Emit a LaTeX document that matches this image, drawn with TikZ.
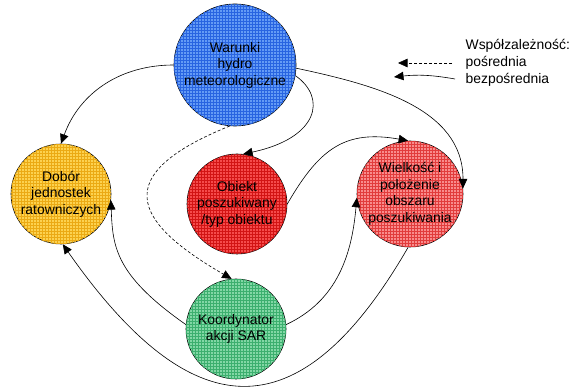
\documentclass[tikz,border=0pt]{standalone}
\usepackage{xcolor}
\usepackage{tikz}
\usepackage{fontspec}
\setmainfont{Liberation Sans}
\usetikzlibrary{arrows.meta,patterns}

\definecolor{warfill}{RGB}{100,155,245}
\definecolor{warline}{RGB}{40,100,225}
\definecolor{dobfill}{RGB}{252,210,80}
\definecolor{dobline}{RGB}{235,170,20}
\definecolor{obifill}{RGB}{245,75,75}
\definecolor{obiline}{RGB}{210,20,20}
\definecolor{wiefill}{RGB}{248,140,140}
\definecolor{wieline}{RGB}{225,60,60}
\definecolor{koofill}{RGB}{130,215,165}
\definecolor{kooline}{RGB}{60,175,110}

\begin{document}
\begin{tikzpicture}[x=1pt, y=1pt, line width=0.6pt,
  factor/.style={draw, circle, inner sep=0pt, align=center,
    font=\fontsize{13.9}{16.5}\selectfont,
    fill=#1fill, postaction={pattern=grid, pattern color=#1line}},
  direct/.style={-{Triangle[length=9.5pt,width=8.5pt]}},
  indirect/.style={direct, densely dashed}]
\useasboundingbox (0,0) rectangle (571,387);

% Factors
\node[factor=war, minimum size=122pt] (war) at (235,322) {Warunki\\hydro\\meteorologiczne};
\node[factor=dob, minimum size=100pt] (dob) at (61,193) {Dobór\\jednostek\\ratowniczych};
\node[factor=obi, minimum size=100pt] (obi) at (237,183) {Obiekt\\poszukiwany\\/typ obiektu};
\node[factor=wie, minimum size=106pt] (wie) at (410,193) {Wielkość i\\położenie\\obszaru\\poszukiwania};
\node[factor=koo, minimum size=100pt] (koo) at (236,58) {Koordynator\\akcji SAR};

% Direct links
\draw[direct] (war.180) to[out=180, in=70] (dob.90);
\draw[direct] (war.-3) to[out=-12, in=90] (wie.6);
\draw[direct] (war.-10) to[out=-35, in=12, out distance=39pt, in distance=77pt] (obi.83);
\draw[direct] (obi.0) to[out=60, in=170, looseness=1.2] (wie.92);
\draw[direct] (koo.175) to[out=145, in=-88, out distance=86pt, in distance=47pt] (dob.-7);
\draw[direct] (koo.5) to[out=25, in=-95] (wie.184);
\draw[direct] (wie.268) to[out=-120, in=-55, distance=221pt] (dob.-88);

% Indirect link
\draw[indirect] (war.265) to[out=202, in=150, out distance=129pt, in distance=116pt] (koo.95);

% Legend
\node[anchor=west, align=left, font=\fontsize{13.9}{17}\selectfont] (legend) at (462,324) {Współzależność:\\pośrednia\\bezpośrednia};
\coordinate (dashfrom) at (452,324);
\coordinate (dashto) at (398,324);
\coordinate (solidfrom) at (455,308);
\coordinate (solidto) at (394,310);
\draw[indirect] (dashfrom) -- (dashto);
\draw[direct] (solidfrom) to[bend right=8] (solidto);
\end{tikzpicture}
\end{document}
